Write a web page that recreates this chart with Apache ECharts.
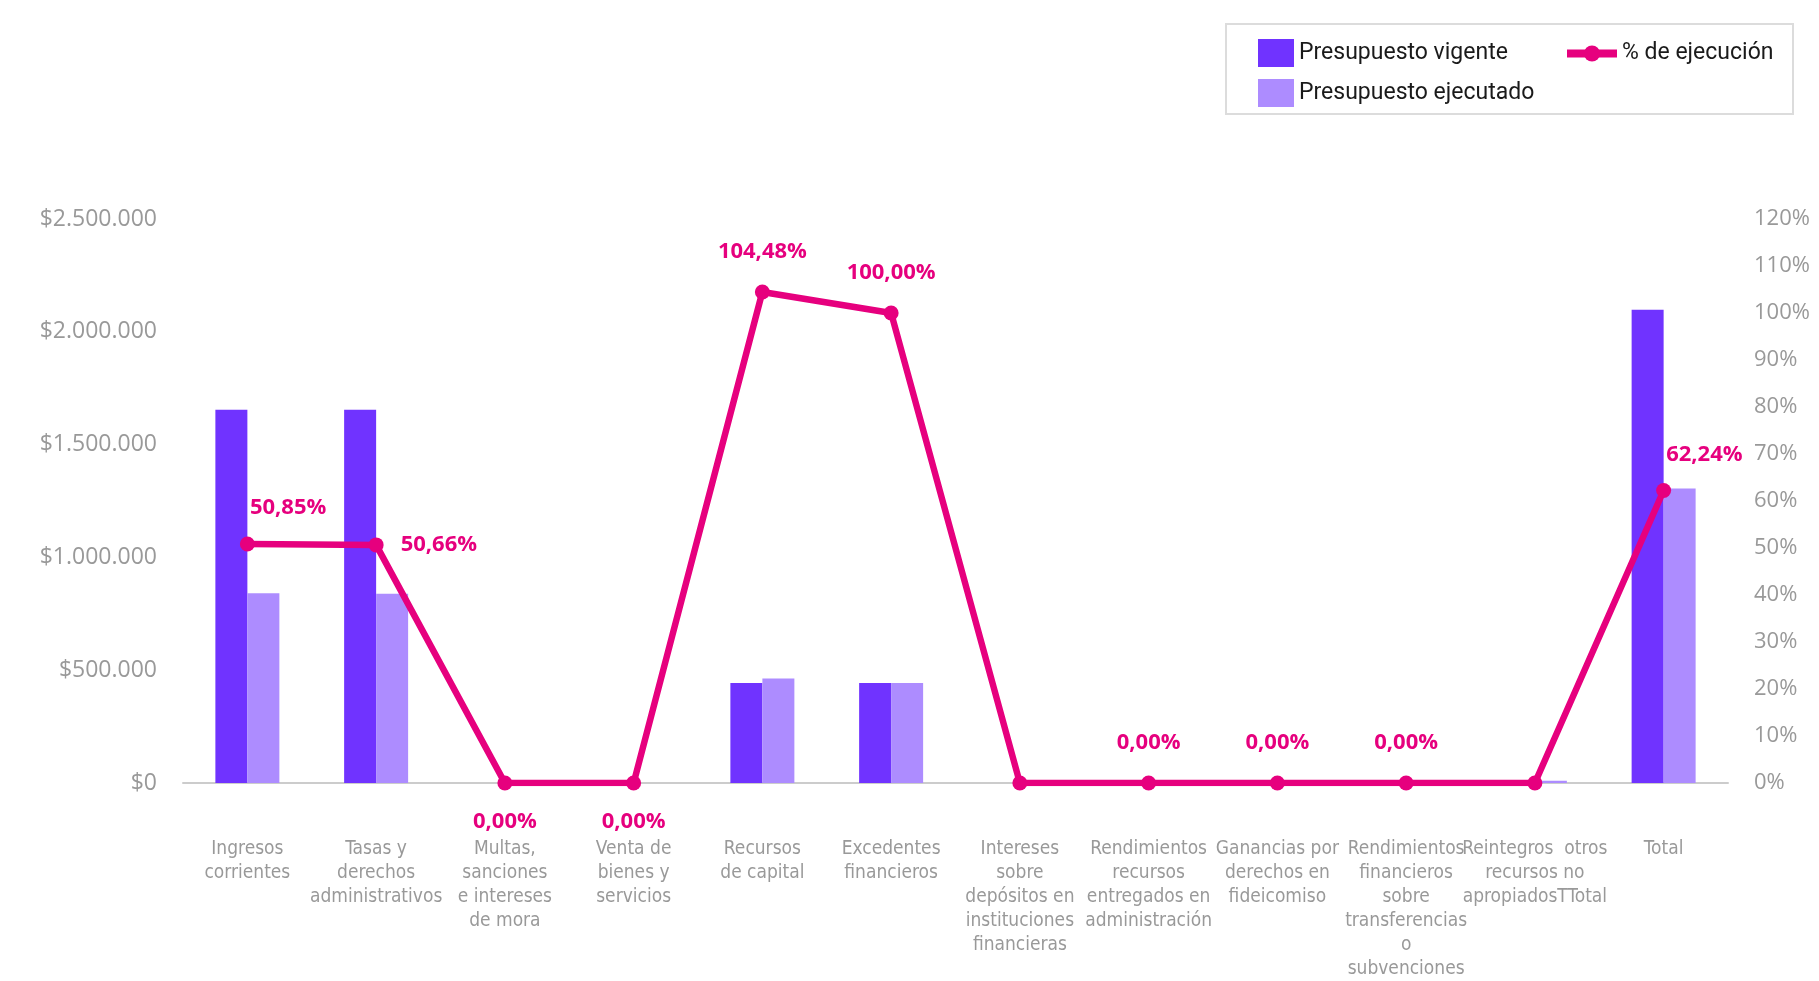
<!DOCTYPE html>
<html>
<head>
<meta charset="utf-8">
<style>
html,body{margin:0;padding:0;background:#fff;}
#chart{width:1819px;height:981px;}
</style>
<script src="https://cdn.jsdelivr.net/npm/echarts@6/dist/echarts.min.js"></script>
</head>
<body>
<div id="chart"></div>
<script>
const categories = [
  'Ingresos\ncorrientes',
  'Tasas y\nderechos\nadministrativos',
  'Multas,\nsanciones\ne intereses\nde mora',
  'Venta de\nbienes y\nservicios',
  'Recursos\nde capital',
  'Excedentes\nfinancieros',
  'Intereses\nsobre\ndepósitos en\ninstituciones\nfinancieras',
  'Rendimientos\nrecursos\nentregados en\nadministración',
  'Ganancias por\nderechos en\nfideicomiso',
  'Rendimientos\nfinancieros\nsobre\ntransferencias\no\nsubvenciones',
  'Reintegros  otros\nrecursos no\napropiadosTTotal',
  'Total'
];
const presupuestoVigente = [1655000, 1655000, 0, 0, 443000, 443000, 0, 0, 0, 0, 0, 2098000];
const presupuestoEjecutado = [841570, 838420, 0, 0, 462850, 443000, 0, 0, 0, 0, 10000, 1305800];
const porcentajeEjecucion = [50.85, 50.66, 0, 0, 104.48, 100, 0, 0, 0, 0, 0, 62.24];
const leftTicks = [0, 500000, 1000000, 1500000, 2000000, 2500000];
const rightTicks = [0, 10, 20, 30, 40, 50, 60, 70, 80, 90, 100, 110, 120];

// label placement style for each point of the % line (null = no label)
const pctLabelPlacement = ['rightTop', 'right', 'bottom', 'bottom', 'top', 'top', null, 'top', 'top', 'top', null, 'rightTop'];

const C_VIG = '#7033FF';
const C_EJE = '#AD8CFF';
const C_PCT = '#E6007E';
const AXIS_FONT = "'Open Sans', 'DejaVu Sans', sans-serif";
const CAT_FONT = "'Liberation Sans Narrow', 'DejaVu Sans Condensed', 'Roboto', sans-serif";
const LEG_FONT = "'Roboto', 'Open Sans', sans-serif";

function fmtMoney(v) {
  return '$' + String(Math.round(v)).replace(/\B(?=(\d{3})+(?!\d))/g, '.');
}
function fmtPct(v) {
  return v.toFixed(2).replace('.', ',') + '%';
}

function labelFor(p) {
  const base = {
    show: true, color: C_PCT, fontWeight: 'bold', fontSize: 22,
    fontFamily: AXIS_FONT, formatter: (pr) => fmtPct(pr.value)
  };
  if (p === null) return { show: false };
  if (p === 'rightTop') return Object.assign(base, { position: 'right', distance: -5, offset: [0, -36] });
  if (p === 'right') return Object.assign(base, { position: 'right', distance: 17, offset: [0, 0] });
  if (p === 'bottom') return Object.assign(base, { position: 'bottom', distance: 20 });
  return Object.assign(base, { position: 'top', distance: 22 });
}

const pctData = porcentajeEjecucion.map((v, i) => ({ value: v, label: labelFor(pctLabelPlacement[i]) }));

const chart = echarts.init(document.getElementById('chart'), null, { renderer: 'canvas' });
const option = {
  backgroundColor: '#ffffff',
  animation: false,
  graphic: [{
    type: 'rect', left: 1225, top: 23, z: -1,
    shape: { width: 567, height: 90 },
    style: { fill: '#fff', stroke: '#dcdcdc', lineWidth: 2 }
  }],
  legend: [
    {
      data: ['Presupuesto vigente'], left: 1253, top: 34,
      itemWidth: 36, itemHeight: 28, icon: 'rect',
      textStyle: { fontSize: 23, color: '#1a1a1a', fontFamily: LEG_FONT }
    },
    {
      data: ['Presupuesto ejecutado'], left: 1253, top: 74,
      itemWidth: 36, itemHeight: 28, icon: 'rect',
      textStyle: { fontSize: 23, color: '#1a1a1a', fontFamily: LEG_FONT }
    },
    {
      data: ['% de ejecución'], left: 1558, top: 37,
      itemWidth: 50, itemHeight: 20,
      lineStyle: { width: 8 },
      textStyle: { fontSize: 23, color: '#1a1a1a', fontFamily: LEG_FONT }
    }
  ],
  grid: { left: 183, right: 91, top: 219, bottom: 193, containLabel: false },
  xAxis: {
    type: 'category',
    data: categories,
    axisLine: { show: true, lineStyle: { color: '#cccccc', width: 2 } },
    axisTick: { show: false },
    axisLabel: {
      interval: 0, margin: 54, color: '#999999', fontSize: 19, lineHeight: 24,
      fontFamily: CAT_FONT, align: 'center', verticalAlign: 'top'
    },
    splitLine: { show: false }
  },
  yAxis: [
    {
      type: 'value', min: leftTicks[0], max: leftTicks[leftTicks.length - 1],
      interval: leftTicks[1] - leftTicks[0],
      axisLine: { show: false }, axisTick: { show: false }, splitLine: { show: false },
      axisLabel: { margin: 26, color: '#999999', fontSize: 23, fontFamily: AXIS_FONT, formatter: fmtMoney }
    },
    {
      type: 'value', min: rightTicks[0], max: rightTicks[rightTicks.length - 1],
      interval: rightTicks[1] - rightTicks[0],
      axisLine: { show: false }, axisTick: { show: false }, splitLine: { show: false },
      axisLabel: { margin: 26, color: '#999999', fontSize: 22, fontFamily: AXIS_FONT, formatter: (v) => v + '%' }
    }
  ],
  series: [
    {
      name: 'Presupuesto vigente', type: 'bar', yAxisIndex: 0,
      data: presupuestoVigente, barWidth: 32, barGap: '0%',
      itemStyle: { color: C_VIG }
    },
    {
      name: 'Presupuesto ejecutado', type: 'bar', yAxisIndex: 0,
      data: presupuestoEjecutado, barWidth: 32, barGap: '0%',
      itemStyle: { color: C_EJE }
    },
    {
      name: '% de ejecución', type: 'line', yAxisIndex: 1,
      data: pctData, symbol: 'circle', symbolSize: 15, z: 5,
      lineStyle: { color: C_PCT, width: 6.5 },
      itemStyle: { color: C_PCT }
    }
  ]
};
chart.setOption(option);
</script>
</body>
</html>
